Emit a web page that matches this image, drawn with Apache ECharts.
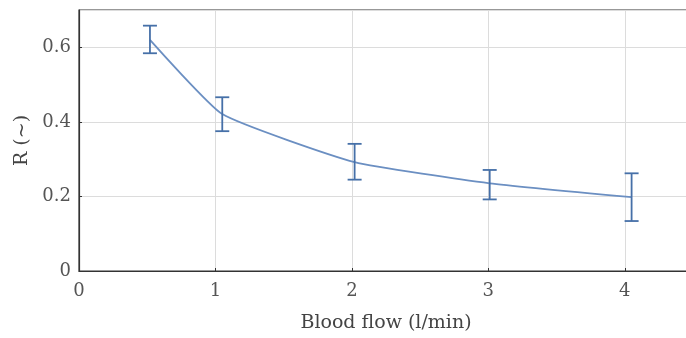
<!DOCTYPE html>
<html>
<head>
<meta charset="utf-8">
<script src="https://cdn.jsdelivr.net/npm/echarts@6/dist/echarts.min.js"></script>
<style>
  html, body { margin: 0; padding: 0; background: #fff; overflow: hidden; }
  #chart { width: 694px; height: 338px; }
</style>
</head>
<body>
<div id="chart"></div>
<script>
// blood flow (l/min) and R, with error bar bounds
const flow = [0.52, 1.05, 2.02, 3.01, 4.05];
const rMean = [0.620, 0.421, 0.292, 0.235, 0.198];
const rLow = [0.584, 0.375, 0.245, 0.192, 0.134];
const rHigh = [0.658, 0.466, 0.341, 0.271, 0.262];

const font = '"DejaVu Serif", "Liberation Serif", serif';
const blue = '#4670a8';

const chart = echarts.init(document.getElementById('chart'), null, { renderer: 'canvas' });

const lineData = flow.map((x, i) => [x, rMean[i]]);
const errData = flow.map((x, i) => [x, rLow[i], rHigh[i]]);

chart.setOption({
  animation: false,
  backgroundColor: '#fff',
  grid: { left: 79, right: 1, top: 10, bottom: 67, show: true, borderColor: '#333', borderWidth: 1.2 },
  xAxis: {
    type: 'value',
    min: 0,
    max: 4.5,
    interval: 1,
    name: 'Blood flow (l/min)',
    nameLocation: 'middle',
    nameGap: 43,
    nameTextStyle: { fontFamily: font, fontSize: 19, color: '#444' },
    axisLine: { show: true, lineStyle: { color: '#333', width: 1.2 } },
    axisTick: { show: true, inside: true, length: 3, lineStyle: { color: '#333' } },
    axisLabel: { fontFamily: font, fontSize: 18, color: '#555', margin: 11, showMaxLabel: false },
    splitLine: { show: true, lineStyle: { color: '#dcdcdc', width: 1 } }
  },
  yAxis: {
    type: 'value',
    min: 0,
    max: 0.7,
    interval: 0.2,
    name: 'R (~)',
    nameLocation: 'middle',
    nameGap: 45,
    nameRotate: 90,
    nameTextStyle: { fontFamily: font, fontSize: 19, color: '#444' },
    axisLine: { show: true, lineStyle: { color: '#333', width: 1.2 } },
    axisTick: { show: true, inside: true, length: 3, lineStyle: { color: '#333' } },
    axisLabel: { fontFamily: font, fontSize: 18, color: '#555', margin: 8, showMaxLabel: false,
      formatter: v => (v === 0 ? '0' : v.toFixed(1)) },
    splitLine: { show: true, lineStyle: { color: '#dcdcdc', width: 1 } }
  },
  series: [
    {
      type: 'line',
      data: lineData,
      smooth: 0.15,
      symbol: 'none',
      lineStyle: { color: '#6b8fc2', width: 1.8 },
      z: 3
    },
    {
      type: 'custom',
      data: errData,
      z: 4,
      renderItem: (params, api) => {
        const x = api.value(0);
        const lo = api.coord([x, api.value(1)]);
        const hi = api.coord([x, api.value(2)]);
        const half = 7;
        const style = { stroke: blue, lineWidth: 1.8 };
        return {
          type: 'group',
          children: [
            { type: 'line', shape: { x1: lo[0], y1: lo[1], x2: hi[0], y2: hi[1] }, style },
            { type: 'line', shape: { x1: hi[0] - half, y1: hi[1], x2: hi[0] + half, y2: hi[1] }, style },
            { type: 'line', shape: { x1: lo[0] - half, y1: lo[1], x2: lo[0] + half, y2: lo[1] }, style }
          ]
        };
      }
    }
  ]
});
</script>
</body>
</html>
